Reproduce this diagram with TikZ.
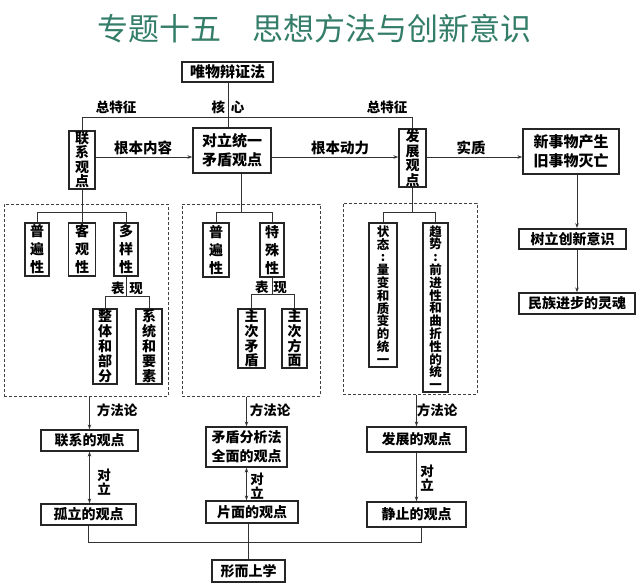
\documentclass[tikz,border=0pt]{standalone}
\usepackage{fontspec}
\newfontfamily\cjk{Noto Sans CJK SC}
\usetikzlibrary{arrows.meta}
\definecolor{titlec}{RGB}{52,125,105}
\begin{document}
\begin{tikzpicture}[x=1pt,y=-1pt,
  bx/.style={draw=black!85,line width=1.3pt,fill=white,inner sep=0pt,align=center,font=\cjk\bfseries\fontsize{14}{19}\selectfont},
  vbox/.style={bx,font=\cjk\bfseries\fontsize{14}{#1}\selectfont},
  tbox/.style={bx,font=\cjk\bfseries\fontsize{12.5}{#1}\selectfont},
  lbl/.style={inner sep=0pt,align=center,font=\cjk\bfseries\fontsize{13.5}{14}\selectfont},
  ln/.style={draw=black!80,line width=1pt},
  arr/.style={ln,-{Stealth[length=5pt,width=3.5pt]}},
  darr/.style={ln,{Stealth[length=5pt,width=3.5pt]}-{Stealth[length=5pt,width=3.5pt]}},
  dbox/.style={draw=black!75,line width=1pt,dash pattern=on 3pt off 2pt,inner sep=0pt},
]
\fill[white] (0,0) rectangle (640,584);
\useasboundingbox (0,0) rectangle (640,584);

\node[font=\cjk\fontsize{31}{31}\selectfont,text=titlec,inner sep=0pt] (title) at (314.5,29) {专题十五\hspace{1em}思想方法与创新意识};

% dashed groups
\node[dbox,minimum width=164pt,minimum height=192pt] (d1) at (86,300) {};
\node[dbox,minimum width=138pt,minimum height=192pt] (d2) at (251,300) {};
\node[dbox,minimum width=134pt,minimum height=191pt] (d3) at (410,298.5) {};

% top row
\node[bx,minimum width=91pt,minimum height=20pt,font=\cjk\bfseries\fontsize{15}{16}\selectfont] (wuwu) at (227.5,72) {唯物辩证法};
\node[vbox=14.5,minimum width=26pt,minimum height=58pt] (lianxi) at (82,160) {联\\系\\观\\点};
\node[bx,minimum width=78pt,minimum height=45pt,font=\cjk\bfseries\fontsize{15}{19}\selectfont] (duili) at (232,150.5) {对立统一\\矛盾观点};
\node[vbox=14.5,minimum width=27pt,minimum height=58pt] (fazhan) at (412.5,158) {发\\展\\观\\点};
\node[bx,minimum width=96pt,minimum height=45pt,font=\cjk\bfseries\fontsize{15}{19}\selectfont] (xinshi) at (571,151.5) {新事物产生\\旧事物灭亡};
\node[bx,line width=1.8pt,minimum width=107pt,minimum height=20pt] (shuli) at (572.5,239) {树立创新意识};
\node[bx,minimum width=116pt,minimum height=21pt] (minzu) at (577,303.5) {民族进步的灵魂};

% group 1
\node[vbox=18,minimum width=24pt,minimum height=53pt] (p1) at (37,249.5) {普\\遍\\性};
\node[vbox=18,minimum width=27pt,minimum height=53pt] (k1) at (82,249.5) {客\\观\\性};
\node[vbox=18,minimum width=24pt,minimum height=53pt] (dy) at (126,249.5) {多\\样\\性};
\node[vbox=15,minimum width=24pt,minimum height=75pt] (zt) at (105,346.5) {整\\体\\和\\部\\分};
\node[vbox=15,minimum width=26pt,minimum height=75pt] (xt) at (149,346.5) {系\\统\\和\\要\\素};

% group 2
\node[vbox=18,minimum width=26pt,minimum height=54pt] (p2) at (216,250) {普\\遍\\性};
\node[vbox=18,minimum width=24pt,minimum height=54pt] (ts) at (272,250) {特\\殊\\性};
\node[vbox=14.75,minimum width=27pt,minimum height=59pt] (zm) at (251.5,338.5) {主\\次\\矛\\盾};
\node[vbox=14.75,minimum width=25pt,minimum height=59pt] (zf) at (294.5,338.5) {主\\次\\方\\面};

% group 3
\node[tbox=12.8,minimum width=28pt,minimum height=144pt] (zs) at (383,295) {状\\态\\:\\量\\变\\和\\质\\变\\的\\统\\一};
\node[tbox=12.8,minimum width=25pt,minimum height=169pt] (qs) at (435.5,307.5) {趋\\势\\:\\前\\进\\性\\和\\曲\\折\\性\\的\\统\\一};

% bottom
\node[bx,minimum width=97pt,minimum height=21pt] (lxg) at (89.5,440.5) {联系的观点};
\node[bx,minimum width=81pt,minimum height=40pt] (mdf) at (246.5,447) {矛盾分析法\\全面的观点};
\node[bx,minimum width=99pt,minimum height=25pt] (fzg) at (416.5,439.5) {发展的观点};
\node[bx,minimum width=95pt,minimum height=21pt] (gl) at (88.5,514.5) {孤立的观点};
\node[bx,minimum width=92pt,minimum height=22pt] (pm) at (252,512) {片面的观点};
\node[bx,minimum width=99pt,minimum height=25pt] (jz) at (416.5,514.5) {静止的观点};
\node[bx,minimum width=73pt,minimum height=22pt] (xe) at (248.5,571) {形而上学};

% labels
\node[lbl] (zt1) at (116,107) {总特征};
\node[lbl] (hx) at (228,107) {核\hspace{6pt}心};
\node[lbl] (zt2) at (387,107) {总特征};
\node[lbl,font=\cjk\bfseries\fontsize{14.5}{15}\selectfont] (gbnr) at (143,148) {根本内容};
\node[lbl,font=\cjk\bfseries\fontsize{14.5}{15}\selectfont] (gbdl) at (340,148) {根本动力};
\node[lbl,font=\cjk\bfseries\fontsize{14.5}{15}\selectfont] (sz) at (471,148) {实质};
\node[lbl] (bx1) at (127,288) {表\hspace{5pt}现};
\node[lbl] (bx2) at (271,287) {表\hspace{5pt}现};
\node[lbl] (ff1) at (117,410) {方法论};
\node[lbl] (ff2) at (270,410) {方法论};
\node[lbl] (ff3) at (437,410) {方法论};
\node[lbl] (dl1) at (104,482) {对\\立};
\node[lbl] (dl2) at (257,486) {对\\立};
\node[lbl] (dl3) at (427,478) {对\\立};

% connectors top
\coordinate (cx) at (228,0);
\coordinate (ytop) at (0,117);
\draw[ln] (wuwu.south -| cx) -- (duili.north -| cx);
\draw[ln] (lianxi.north) -- (lianxi.north |- ytop) -- (fazhan.north |- ytop) -- (fazhan.north);
\coordinate (ya) at (0,157);
\draw[arr] (lianxi.east |- ya) -- (duili.west |- ya);
\draw[arr] (duili.east |- ya) -- (fazhan.west |- ya);
\draw[arr] (fazhan.east |- ya) -- (xinshi.west |- ya);
\coordinate (cr) at (577,0);
\draw[arr] (xinshi.south -| cr) -- (shuli.north -| cr);
\draw[arr] (shuli.south -| cr) -- (minzu.north -| cr);

% group 1 connectors
\coordinate (yb) at (0,212);
\draw[ln] (lianxi.south) -- (k1.north);
\draw[ln] (p1.north) -- (p1.north |- yb) -- (dy.north |- yb) -- (dy.north);
\coordinate (yc) at (0,296);
\draw[ln] (dy.south) -- (dy.south |- yc);
\draw[ln] (zt.north) -- (zt.north |- yc) -- (xt.north |- yc) -- (xt.north);

% group 2 connectors
\coordinate (cm) at (241,0);
\draw[ln] (duili.south -| cm) -- (cm |- yb);
\draw[ln] (p2.north) -- (p2.north |- yb) -- (ts.north |- yb) -- (ts.north);
\coordinate (yd) at (0,294);
\draw[ln] (ts.south) -- (ts.south |- yd);
\draw[ln] (zm.north) -- (zm.north |- yd) -- (zf.north |- yd) -- (zf.north);

% group 3 connectors
\draw[ln] (fazhan.south) -- (fazhan.south |- yb);
\draw[ln] (zs.north) -- (zs.north |- yb) -- (qs.north |- yb) -- (qs.north);

% bottom connectors
\draw[arr] (d1.south -| lxg.north) -- (lxg.north);
\draw[arr] (d2.south -| mdf.north) -- (mdf.north);
\draw[arr] (d3.south -| fzg.north) -- (fzg.north);
\draw[darr] (lxg.south) -- (lxg.south |- gl.north);
\draw[darr] (mdf.south) -- (mdf.south |- pm.north);
\draw[arr] (fzg.south) -- (fzg.south |- jz.north);
\coordinate (ye) at (421,542);
\draw[ln] (gl.south) |- (ye) -- (ye |- jz.south);
\draw[ln] (pm.south -| xe.north) -- (xe.north);
\end{tikzpicture}
\end{document}
